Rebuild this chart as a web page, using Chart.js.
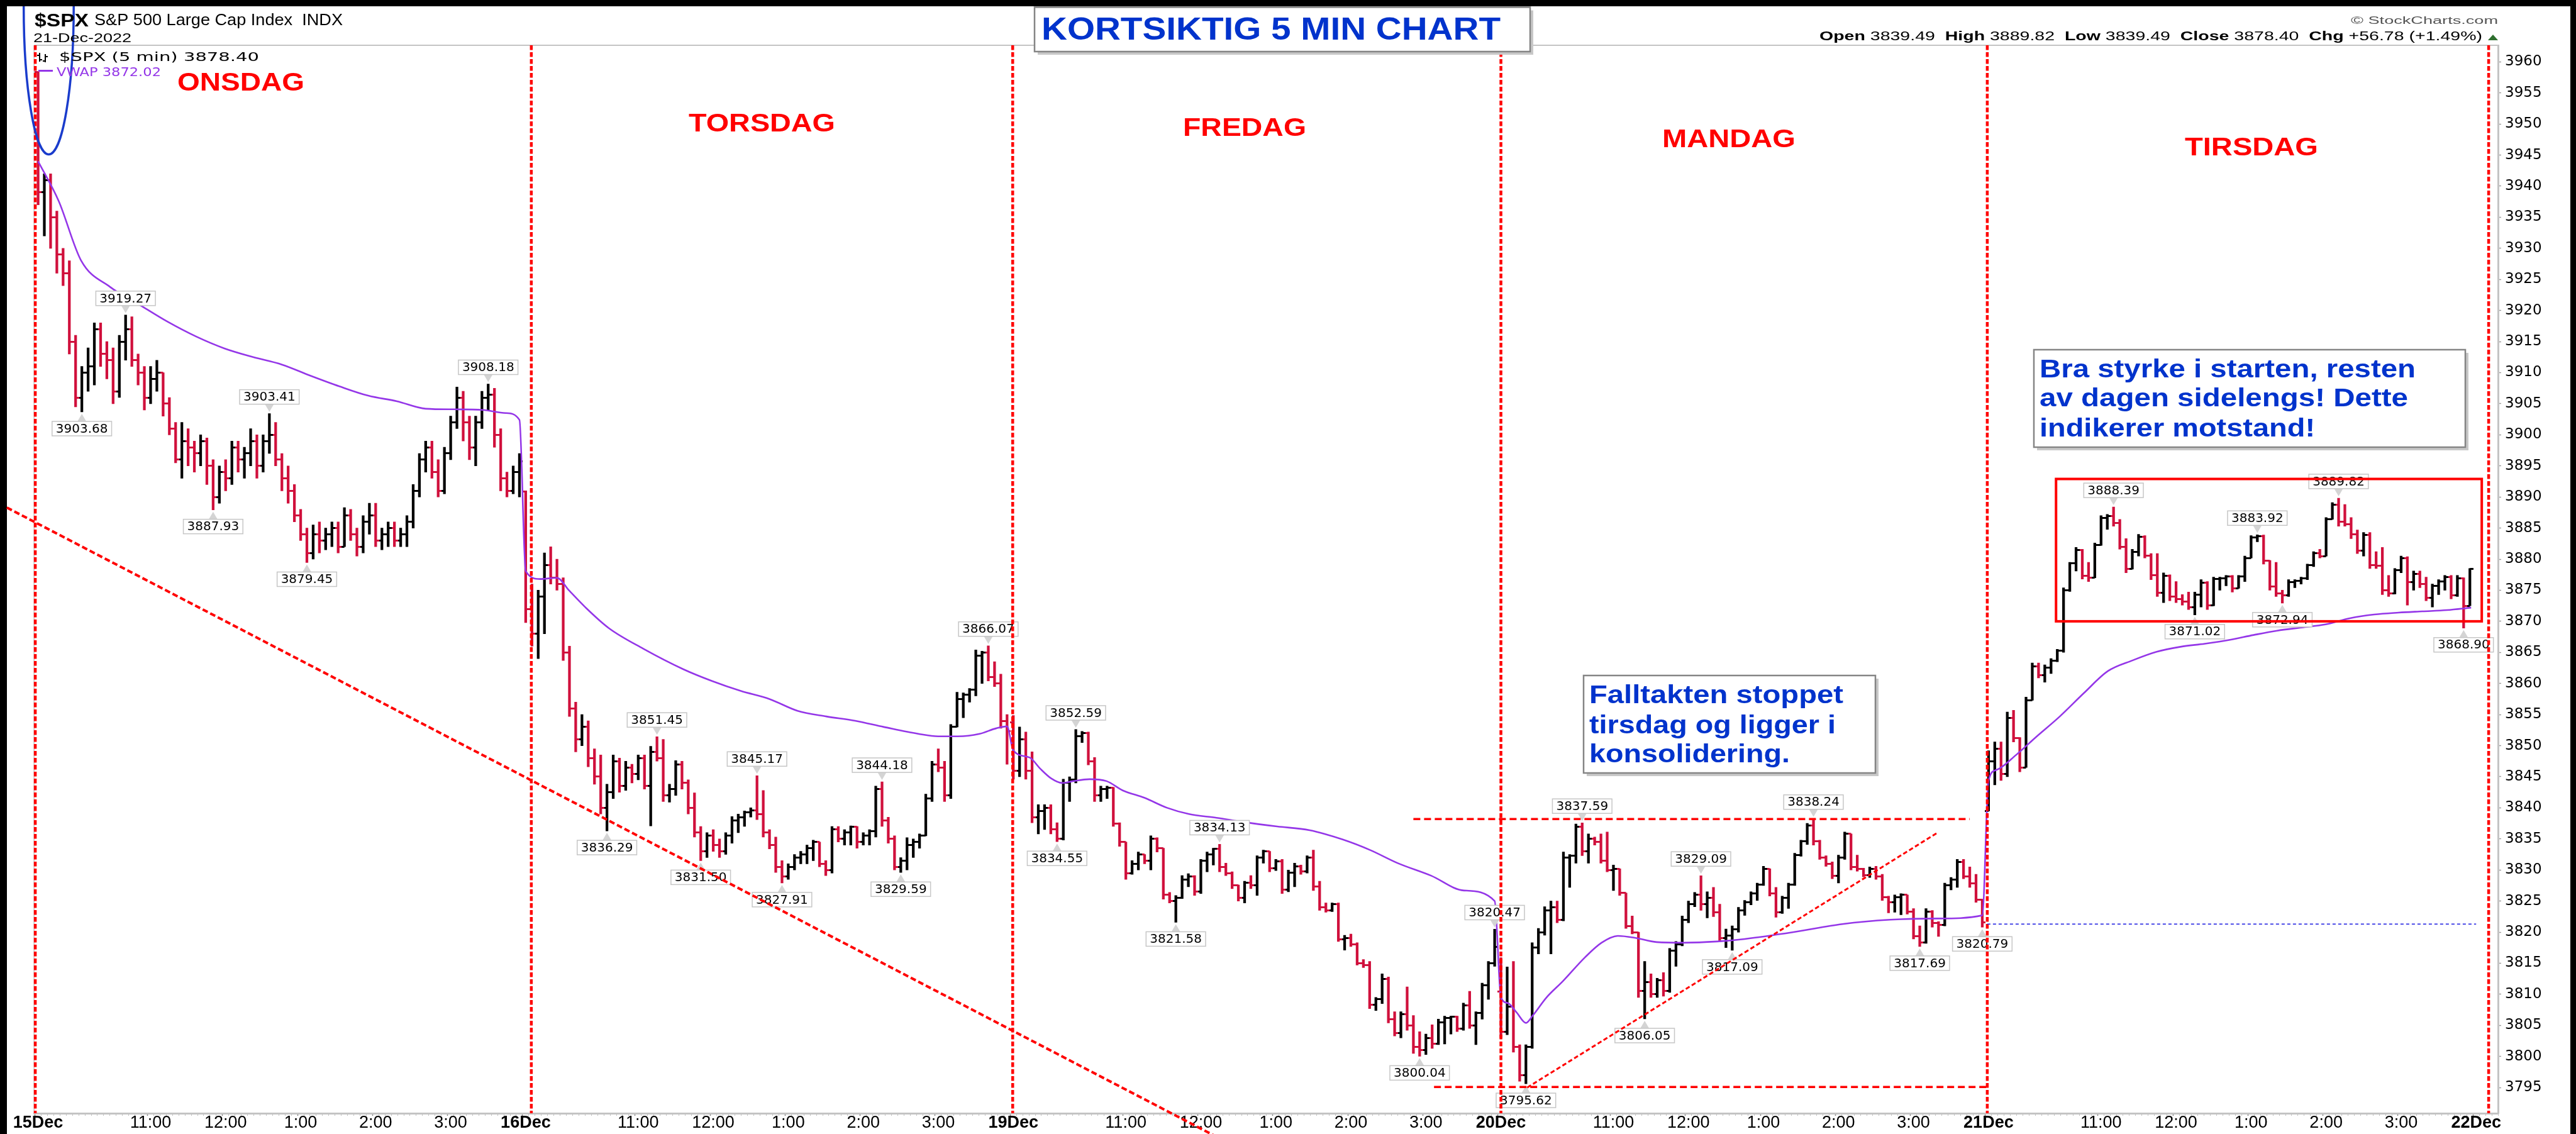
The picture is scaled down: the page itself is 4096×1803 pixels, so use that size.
<!DOCTYPE html>
<html><head><meta charset="utf-8">
<script src="https://cdn.jsdelivr.net/npm/chart.js@4.4.1/dist/chart.umd.min.js"></script>
<style>html,body{margin:0;padding:0;background:#fff;overflow:hidden}canvas{display:block}</style>
</head><body>
<canvas id="c" width="4096" height="1803"></canvas>
<script>
// ---------------- DATA ----------------
const dayLabels = ['15Dec','16Dec','19Dec','20Dec','21Dec','22Dec'];
const hourLabels = ['11:00','12:00','1:00','2:00','3:00'];
const hourOffsets = [18,30,42,54,66];
const barsPerDay = 78;
const yTicks = [3795,3800,3805,3810,3815,3820,3825,3830,3835,3840,3845,3850,3855,3860,3865,3870,3875,3880,3885,3890,3895,3900,3905,3910,3915,3920,3925,3930,3935,3940,3945,3950,3955,3960];
const dayOpen = [3958.37,3890.91,3853.79,3810.47,3839.49];

const d1High = [3958.4,3942,3942,3936,3930,3928,3916,3911,3914,3918,3918,3915,3914,3916,3919.27,3919,3913,3911,3911,3912,3910,3906,3902,3902,3901,3899,3900,3899.5,3896,3895,3896,3899,3899,3898,3901,3900,3900,3903.41,3902,3897,3895,3892,3888,3885,3885.5,3886,3885,3886,3886,3888.3,3888,3885,3887,3889,3889,3885,3886,3886,3885,3887,3892,3897,3899,3899,3896,3898,3903,3907.7,3907,3903,3903,3907,3908.18,3907.5,3901,3894,3895,3897];
const d1Low = [3937,3932,3930,3926,3924,3913,3904.5,3903.68,3907,3908,3911,3909,3905,3906,3912,3911,3908,3904,3905,3907,3903,3900,3895.5,3893,3895,3894,3895,3892,3887.93,3889,3891,3892,3894,3893,3895,3893,3894,3897,3895,3891,3889,3886,3883,3879.45,3880,3881,3881.5,3882,3881,3882,3883,3880.5,3881,3884,3882,3881.5,3882,3882,3882,3882,3885,3890,3894,3893,3890,3890.5,3896,3901,3899,3896,3895,3901,3904,3898,3891,3890,3890.5,3890];
const d1Close = [3939,3941,3935,3929,3926,3915,3906,3910,3911,3917,3913,3912,3907,3915,3917,3912,3910,3906,3909,3910,3905,3901,3896,3899,3898,3897,3899,3895,3890,3894,3893,3898,3896,3897,3899,3895,3899,3900,3896,3893,3891,3887,3884,3881,3884,3883,3884,3885,3882,3887,3884,3882,3886,3887,3883,3884,3885,3883,3884,3886,3891,3896,3898,3894,3891,3897,3902,3906,3902,3898,3902,3906,3906.5,3900,3893,3891,3894,3895.75];

const d2High = [3891,3876,3875,3881,3882,3880,3877,3866,3857,3855,3854,3849.5,3848.5,3843.8,3848.5,3848,3847.5,3847,3848.5,3848.5,3849.9,3851.45,3851,3843.8,3847.6,3847.5,3844.5,3842.4,3837,3836,3836.5,3835,3836,3838.6,3839,3839.5,3840,3845.17,3842.8,3836.5,3835.3,3831.5,3831,3832.5,3833,3834,3834.8,3834.5,3831.5,3837,3837,3836.5,3837.1,3837,3836,3836.5,3843.5,3844.18,3838.5,3835.5,3832,3835.2,3835,3835.8,3842.2,3847.5,3849.5,3847.5,3853.4,3858.6,3858.5,3859.2,3865.4,3865.2,3866.07,3863.5,3861.5,3855];
const d2Low = [3869.8,3866,3864,3868,3876,3875,3863.7,3854.7,3849,3850,3846.6,3843.8,3839,3836.29,3841.5,3842.5,3842.8,3844,3844.5,3843,3837.1,3847.5,3841,3840.9,3842,3843,3839,3835.3,3831.5,3832,3833,3832,3832.5,3834.3,3836,3837,3838.5,3838.1,3835.3,3833.4,3829.6,3827.91,3828.5,3830,3831,3831,3831.5,3830.5,3829.1,3829.5,3834.5,3834,3834,3833.5,3834,3834,3835.3,3837,3834.3,3830,3829.59,3830,3832,3833.5,3835.5,3841,3845.8,3841,3841.5,3853,3854.5,3857,3858,3860,3860.4,3859.5,3852.8,3847];
const d2Close = [3872,3868,3874,3879,3877,3876,3865,3856,3851,3853,3848,3845,3840,3842.5,3847.5,3843.5,3846.5,3845.5,3848,3843.5,3849,3848,3842,3843,3847,3844,3840,3836,3833,3835.5,3834,3833,3835.5,3838,3838.5,3839.3,3839.6,3839,3836,3834,3830.5,3829,3830.5,3832,3832.5,3833.5,3834.5,3831,3830,3836.5,3835,3836,3837,3834.5,3835.5,3836.2,3843,3838,3835,3830.5,3831.5,3834,3834.5,3835.5,3841.5,3847,3846.5,3842,3853,3857.5,3858.2,3859,3864.5,3865,3861,3860,3854,3852.36];

const d3High = [3854.86,3853,3852.2,3849,3840.5,3840.5,3840.5,3837.6,3844.6,3845,3852.59,3852.3,3852.2,3848.1,3843.5,3843.5,3843.3,3837.6,3834.5,3831.5,3832.9,3832.5,3835.5,3835.2,3833.5,3826.4,3825.9,3829.1,3829.4,3829.1,3831.7,3832.9,3833.5,3834.13,3831.1,3829.7,3827.6,3828.2,3829.1,3832.3,3833.2,3833,3831.7,3831.7,3830,3831.1,3830.8,3832.3,3833.2,3828.2,3824.7,3824.7,3824.7,3819.5,3819.7,3818.3,3815.6,3815.3,3809.5,3813.3,3812.8,3807.2,3807.2,3811.2,3806.6,3804,3803.6,3805.1,3806,3806.5,3806.5,3806.5,3808.6,3810.5,3807.2,3811.8,3815.3,3820.47];
const d3Low = [3844.6,3845,3844.6,3837.6,3835.8,3836.5,3835.8,3834.55,3834.8,3841,3844,3850.5,3846.9,3841,3841,3841.5,3837,3833.8,3828.5,3829.3,3830,3831,3830,3832.9,3825.3,3824.7,3821.58,3825.4,3827.3,3825.9,3826.2,3829.7,3830.8,3829.7,3829.1,3827,3825,3824.7,3827,3825.9,3831.1,3829.7,3829.9,3826.2,3826.5,3827.3,3829.3,3829.5,3826.7,3823.5,3823.2,3823.3,3818.5,3817.1,3817.7,3814.7,3814.3,3807.7,3807.4,3808.5,3805.4,3803.3,3803,3804.2,3800.5,3800.04,3800.3,3801.3,3801.9,3802,3803.6,3804,3804.2,3804.5,3801.9,3806,3809.2,3814.5];
const d3Close = [3846,3851,3846,3838.5,3839.5,3840,3836.5,3835,3844,3844.5,3851.5,3852,3847.5,3842,3843,3843.2,3837.5,3834.5,3829.5,3831,3832.5,3831.5,3835,3833.5,3826,3825,3825.5,3828.5,3829,3826.5,3831.5,3832.5,3833.4,3830.5,3829.5,3827.5,3825.5,3828,3827.5,3832,3833,3830.3,3831.4,3826.8,3829.6,3830.6,3829.8,3832,3827.3,3824,3823.5,3824.5,3818.8,3819,3818,3815,3814.7,3808.3,3809.2,3812.5,3806,3803.8,3806.8,3805,3801.5,3801,3803,3802,3805.5,3806.2,3806.4,3804.5,3808.2,3805,3807,3811.5,3815,3817.66];

const d4High = [3815.9,3814.4,3815.3,3801.9,3801.9,3818.3,3820.6,3824.1,3825,3825,3832.9,3832.5,3837.4,3837.59,3835.8,3835.3,3835.8,3836.1,3830.8,3830.2,3826.3,3822.6,3820,3815.3,3813.3,3812.6,3813.5,3817.4,3818.5,3822.6,3825,3826.4,3829.09,3826.5,3827.2,3824.5,3820.5,3821,3824,3825.1,3826.5,3827.9,3830.6,3830.2,3827.2,3825.8,3827.9,3832.7,3834.8,3837.5,3838.24,3834.8,3832.3,3831.3,3832.4,3836.1,3835.8,3832.4,3830.3,3830.5,3830.6,3829.3,3825.8,3826,3826.2,3826,3823.8,3821,3823.8,3823.5,3821.7,3827.9,3828.8,3831.7,3831.7,3830.5,3829.3,3825.3];
const d4Low = [3803,3803.5,3800.7,3796,3795.62,3801.3,3816.5,3819.5,3816.5,3821.5,3821.8,3827.2,3831.1,3832.3,3831.1,3834,3831.1,3829.7,3826.7,3825.9,3820.6,3819.7,3809.5,3806.05,3809.5,3809.5,3809.7,3810.3,3814.5,3817.8,3821.5,3824.1,3823.5,3822.3,3822.5,3818.5,3817.5,3817.09,3820,3822.7,3824.4,3825.1,3827.5,3825.8,3822.4,3823,3823.8,3827.5,3832.2,3834.1,3834,3831.7,3830.6,3828.6,3827.9,3831.7,3830,3829.8,3828.9,3828.8,3828.5,3825.1,3823.1,3823.2,3822.8,3822.9,3818.9,3817.69,3818.2,3820.8,3819.3,3821,3826.8,3827.2,3828.6,3827.2,3824.8,3820.79];
const d4Close = [3804,3808,3801.5,3797,3801.5,3817.5,3820,3823.5,3824,3822,3832,3832.3,3837,3833,3835,3834.5,3831.5,3830,3830.2,3826.3,3821,3820,3810.5,3812,3810,3812.3,3810.5,3817,3818,3822,3824.5,3826,3824.5,3825.5,3823.2,3819,3819.5,3820.5,3823.5,3824.8,3826.2,3827.6,3830.2,3826.2,3823.2,3825.5,3827.6,3832.4,3834.6,3837.2,3834.6,3832,3831,3829.1,3832,3835.8,3830.5,3830.2,3829.2,3830.2,3829,3825.6,3824.8,3825.6,3826,3823.3,3819.4,3818.3,3823.3,3821.5,3821.2,3827.5,3828.5,3831.3,3829,3827.8,3825.2,3821.62];

const d5High = [3849.2,3850.6,3850.6,3855.4,3855.7,3851.3,3857.8,3863.3,3863.3,3863,3864,3865.5,3875.4,3879.5,3881.9,3881.6,3879.5,3882.6,3887,3887.2,3888.39,3886.4,3883.3,3881.6,3884,3883.8,3880.9,3880.9,3877.8,3877.5,3876.4,3874.3,3874.7,3874.7,3876.7,3876.4,3877.1,3877.1,3877.4,3877.4,3877.4,3880.5,3883.8,3883.92,3883.9,3879.8,3879.5,3875,3876.7,3876.7,3877.1,3879.2,3881.2,3881.6,3886.7,3889.1,3889.82,3888.8,3886.7,3884.7,3884.3,3884.3,3881.2,3881.9,3877.4,3878.5,3880.5,3880.4,3878.1,3878.1,3877.1,3876,3876.7,3877.4,3877.4,3877.4,3877,3878.5];
const d5Low = [3839.49,3843.7,3844.4,3845,3850.6,3845.8,3846.5,3857.3,3860.9,3860.2,3861.6,3863.5,3865,3874.8,3878.1,3876.8,3876.4,3877,3882.2,3884.8,3885.3,3881.6,3877.8,3878.4,3880.5,3880.2,3876.7,3874,3873,3873.3,3873,3872.6,3871.9,3871.02,3872.3,3871.9,3872.5,3875,3875.7,3874.7,3875.3,3876.4,3880.2,3882.8,3879.2,3875,3874,3872.94,3874,3875.4,3876,3876.7,3878.8,3880.2,3880.5,3886.4,3885.3,3885.3,3883.3,3880.9,3880.5,3878.5,3878.5,3874.3,3874,3874.4,3877.8,3872.6,3875,3875.4,3873.3,3872.3,3874.3,3875,3873.6,3874,3868.9,3872.5];
const d5Close = [3847.5,3849.5,3845.5,3854.5,3851.2,3846.5,3857.3,3862.8,3861.3,3862.6,3863.7,3865.3,3875,3879.3,3881.5,3877.3,3877,3882.3,3886.6,3886.9,3885.8,3882,3878.4,3881.2,3883.6,3880.6,3877.4,3874.6,3877.3,3874,3873.6,3873.2,3872.3,3874.3,3876.2,3872.6,3876.8,3876.9,3877.2,3875.3,3877.2,3880.2,3883.5,3883.7,3879.8,3875.6,3874.5,3874.2,3876.3,3876.5,3876.9,3879,3881,3880.5,3886.4,3888.8,3886,3885.6,3884,3881.4,3883.9,3879,3878.9,3875,3874.5,3878.2,3880.2,3876.3,3877.6,3876,3873.8,3875.7,3876.4,3877.1,3874.2,3876.9,3872.5,3878.4];

const vwapBars = [0,3.3,6.9,11.5,16.1,20.7,25.3,29.8,34.4,39,43.6,48.2,52.8,57.4,62,66.5,71.1,74.8,77,
 78,80.3,83,84.9,87.6,91.3,96.8,103.2,107.8,112.4,117,121.5,126.1,130.7,135.3,140.8,144,147.1,150.6,153.3,155,
 156,158.6,160.3,162.1,163.8,165.6,168.2,170.9,173.5,177,180.6,184.1,188.5,192.9,198.2,203.4,208.7,213.1,217.5,222.8,228.1,233,
 234,235.1,236.5,238,239.1,241.3,243.9,247.4,250.1,252.7,255.4,258.9,263.3,268.6,273,280.8,288.6,296.3,304,311,
 312,313.3,316.4,319.5,323.4,327.3,331.1,335,338.9,342.7,346.6,350.5,354.4,358.2,362.1,365.9,369.8,373.7,377.6,381.4,385.3,389.2];
const vwapValues = [3944,3937.6,3928,3923.8,3921,3918.2,3915.8,3913.9,3912.5,3911.3,3909.5,3907.8,3906.3,3905.4,3904.2,3904.1,3904,3903.5,3902.4,
 3878.1,3876.8,3877,3875,3872.2,3868.9,3865.6,3862.3,3860.4,3858.8,3857.5,3855.6,3854.7,3854,3853,3851.9,3851.5,3851.5,3851.9,3852.8,3853.1,
 3849.2,3848.1,3846.3,3844.7,3844,3844.3,3844.6,3844.3,3842.8,3841.6,3840,3839,3838.4,3837.7,3837,3836.4,3834.9,3833.2,3831.1,3829.1,3826.7,3825,
 3809.5,3808.6,3807.1,3805.4,3806.6,3809.5,3812.1,3815.9,3818.3,3819.4,3819.1,3818.4,3818.3,3818.5,3818.9,3820,3821.3,3822,3822.2,3822.7,
 3844.4,3846.1,3848.5,3851.3,3854.7,3858.5,3862,3863.7,3865.1,3865.9,3866.4,3867,3867.8,3868.5,3869,3869.5,3870.5,3871.1,3871.4,3871.6,3871.8,3872.2];

// swing-point price labels: [bar, price, 'h' above / 'l' below]
const swingLabels = [
 [14,3919.27,'h'],[7,3903.68,'l'],[37,3903.41,'h'],[28,3887.93,'l'],[43,3879.45,'l'],[72,3908.18,'h'],
 [99,3851.45,'h'],[91,3836.29,'l'],[115,3845.17,'h'],[106,3831.50,'l'],[119,3827.91,'l'],[135,3844.18,'h'],[138,3829.59,'l'],[152,3866.07,'h'],
 [163,3834.55,'l'],[166,3852.59,'h'],[182,3821.58,'l'],[189,3834.13,'h'],[221,3800.04,'l'],[233,3820.47,'h'],
 [238,3795.62,'l'],[247,3837.59,'h'],[257,3806.05,'l'],[266,3829.09,'h'],[271,3817.09,'l'],[284,3838.24,'h'],[301,3817.69,'l'],[311,3820.79,'l'],
 [332,3888.39,'h'],[345,3871.02,'l'],[355,3883.92,'h'],[359,3872.94,'l'],[368,3889.82,'h'],[388,3868.90,'l']
];

// hand-drawn annotations (in bar / price units)
const dayLineBars = [-0.45,78.9,155.9,234,311.8,392];
const downTrend = [[-5.0,3888.3],[188.1,3787.3]];
const riseTrend = [[238.2,3795.0],[304,3836.1]];
const resistLine = [[220,3838.2],[309,3838.2]];
const supportLine = [[223.3,3795.1],[311.8,3795.1]];
const blueLine = [[311.8,3821.3],[390,3821.3]];
const rangeBox = [[322.8,3892.9],[390.9,3870.0]];
const ellipseNote = {bar:1.7, price:3968.9, rBars:4.0, rPrice:23.8};

// ---------------- BUILD ----------------
const high = [].concat(d1High,d2High,d3High,d4High,d5High);
const low = [].concat(d1Low,d2Low,d3Low,d4Low,d5Low);
const close = [].concat(d1Close,d2Close,d3Close,d4Close,d5Close);
const open = close.map((c,i)=> i % barsPerDay === 0 ? dayOpen[i/barsPerDay] : close[i-1]);
const isUp = close.map((c,i)=> c >= open[i]);

const xLabelMap = {};
dayLabels.forEach((d,i)=>{ xLabelMap[i*barsPerDay] = d; });
for (let d=0; d<5; d++) hourOffsets.forEach((o,j)=>{ xLabelMap[d*barsPerDay+o] = hourLabels[j]; });
const xTickValues = []; for (let i=0;i<=393;i++) xTickValues.push(i);

const UP = '#000000', DN = '#d0103c', PURPLE = '#9436e8', RED = '#ff0000', BLUE = '#0033cc';
const XMIN = -0.64, XMAX = 393.5, YMIN = 3790.87, YMAX = 3962.65;

function tickImg(color, side){
  const c = document.createElement('canvas'); c.width = 11; c.height = 3;
  const g = c.getContext('2d'); g.fillStyle = color;
  if (side === 'L') g.fillRect(0,0,5.5,3); else g.fillRect(5.5,0,5.5,3);
  return c;
}
const imgOpenUp = tickImg(UP,'L'), imgOpenDn = tickImg(DN,'L'), imgCloseUp = tickImg(UP,'R'), imgCloseDn = tickImg(DN,'R');

function fitText(ctx, txt, x, y, w, font, color, align){
  ctx.save(); ctx.font = font; ctx.fillStyle = color; ctx.textAlign = 'left'; ctx.textBaseline = 'alphabetic';
  const m = ctx.measureText(txt).width; const s = w / m;
  const x0 = align === 'right' ? x - w : x;
  ctx.translate(x0, y); ctx.scale(s, 1); ctx.fillText(txt, 0, 0); ctx.restore();
}
function segLine(ctx, p1, p2, sx, sy, color, width, dash){
  ctx.save(); ctx.strokeStyle = color; ctx.lineWidth = width; ctx.setLineDash(dash || []);
  ctx.beginPath(); ctx.moveTo(sx.getPixelForValue(p1[0]), sy.getPixelForValue(p1[1]));
  ctx.lineTo(sx.getPixelForValue(p2[0]), sy.getPixelForValue(p2[1])); ctx.stroke(); ctx.restore();
}
function noteBox(ctx, x, y, w, h){
  ctx.save();
  ctx.fillStyle = '#c8c8c8'; ctx.fillRect(x+5, y+5, w, h);
  ctx.fillStyle = '#ffffff'; ctx.fillRect(x, y, w, h);
  ctx.strokeStyle = '#858585'; ctx.lineWidth = 2.5; ctx.strokeRect(x, y, w, h);
  ctx.restore();
}

const annotations = {
  id: 'annotations',
  beforeDraw(chart){
    const ctx = chart.ctx;
    ctx.save();
    ctx.fillStyle = '#000'; ctx.fillRect(0,0,4096,1803);
    ctx.fillStyle = '#fff'; ctx.fillRect(11,10,4087-11,1803-10);
    ctx.restore();
  },
  afterDatasetsDraw(chart){
    const ctx = chart.ctx, sx = chart.scales.x, sy = chart.scales.y, ca = chart.chartArea;
    // swing labels
    ctx.save();
    ctx.font = '20px "DejaVu Sans", Verdana, sans-serif';
    swingLabels.forEach(([b, v, k])=>{
      const px = sx.getPixelForValue(b), py = sy.getPixelForValue(v);
      const txt = v.toFixed(2); const tw = ctx.measureText(txt).width;
      const bw = tw + 12, bh = 23;
      const by = k === 'h' ? py - 15 - bh : py + 15;
      ctx.fillStyle = '#d4d4d4'; ctx.beginPath();
      if (k === 'h'){ ctx.moveTo(px-7, by+bh); ctx.lineTo(px+7, by+bh); ctx.lineTo(px, py-3); }
      else { ctx.moveTo(px-7, by); ctx.lineTo(px+7, by); ctx.lineTo(px, py+3); }
      ctx.closePath(); ctx.fill();
      ctx.fillStyle = '#fff'; ctx.fillRect(px-bw/2, by, bw, bh);
      ctx.strokeStyle = '#c6c6c6'; ctx.lineWidth = 1.5; ctx.strokeRect(px-bw/2, by, bw, bh);
      ctx.fillStyle = '#000'; ctx.textAlign = 'center'; ctx.textBaseline = 'middle';
      ctx.fillText(txt, px, by + bh/2 + 1);
    });
    ctx.restore();
    // plot frame top / left
    ctx.save(); ctx.strokeStyle = '#c4c4c4';
    ctx.lineWidth = 2; ctx.beginPath(); ctx.moveTo(ca.left, ca.top); ctx.lineTo(ca.right, ca.top); ctx.stroke();
    ctx.lineWidth = 1.5; ctx.beginPath(); ctx.moveTo(ca.left, ca.top); ctx.lineTo(ca.left, ca.bottom); ctx.stroke();
    ctx.restore();
    // day separators
    dayLineBars.forEach(b=> segLine(ctx, [b, YMAX], [b, YMIN], sx, sy, RED, 4.5, [7.5,3.5]));
    // trend lines
    segLine(ctx, downTrend[0], downTrend[1], sx, sy, RED, 4, [9,4.5]);
    segLine(ctx, resistLine[0], resistLine[1], sx, sy, RED, 3.5, [11,6]);
    segLine(ctx, supportLine[0], supportLine[1], sx, sy, RED, 3.5, [11,6]);
    segLine(ctx, riseTrend[0], riseTrend[1], sx, sy, RED, 3, [7,4]);
    segLine(ctx, blueLine[0], blueLine[1], sx, sy, '#1a1ae0', 1.5, [5,4]);
    // resistance rectangle
    ctx.save(); ctx.strokeStyle = RED; ctx.lineWidth = 4;
    const rx1 = sx.getPixelForValue(rangeBox[0][0]), ry1 = sy.getPixelForValue(rangeBox[0][1]);
    const rx2 = sx.getPixelForValue(rangeBox[1][0]), ry2 = sy.getPixelForValue(rangeBox[1][1]);
    ctx.strokeRect(rx1, ry1, rx2-rx1, ry2-ry1); ctx.restore();
    // ellipse
    ctx.save(); ctx.beginPath(); ctx.rect(11, 10, 4000, 1800); ctx.clip();
    const ex = sx.getPixelForValue(ellipseNote.bar), ey = sy.getPixelForValue(ellipseNote.price);
    const ea = sx.getPixelForValue(ellipseNote.bar + ellipseNote.rBars) - ex;
    const eb = sy.getPixelForValue(ellipseNote.price - ellipseNote.rPrice) - ey;
    ctx.strokeStyle = '#1a3ccc'; ctx.lineWidth = 3.5; ctx.beginPath(); ctx.ellipse(ex, ey, ea, eb, 0, 0, Math.PI*2); ctx.stroke();
    ctx.restore();
  },
  afterDraw(chart){
    const ctx = chart.ctx;
    const F = 'px "Liberation Sans", Arial, sans-serif';
    // header
    fitText(ctx, '$SPX', 55, 41.5, 86, 'bold 30'+F, '#000');
    fitText(ctx, 'S&P 500 Large Cap Index  INDX', 150, 40, 395, '26'+F, '#000');
    fitText(ctx, '21-Dec-2022', 53, 67, 156, '21'+F, '#000');
    // legend
    ctx.save(); ctx.fillStyle = '#000';
    ctx.fillRect(62, 84, 2, 14); ctx.fillRect(59, 87, 3, 2); ctx.fillRect(64, 94, 3, 2);
    ctx.fillRect(71, 86, 2, 13); ctx.fillRect(68, 96, 3, 2); ctx.fillRect(73, 89, 3, 2);
    ctx.restore();
    fitText(ctx, '$SPX (5 min) 3878.40', 94, 97, 318, '19px "DejaVu Sans", Verdana, sans-serif', '#000');
    ctx.save(); ctx.fillStyle = PURPLE; ctx.fillRect(61, 111, 23, 3); ctx.restore();
    fitText(ctx, 'VWAP 3872.02', 90, 121, 166, '19px "DejaVu Sans", Verdana, sans-serif', PURPLE);
    // copyright + OHLC line
    fitText(ctx, '\u00A9 StockCharts.com', 3972, 38, 234, '16'+F, '#555', 'right');
    const segs = [['Open',1],[' 3839.49  ',0],['High',1],[' 3889.82  ',0],['Low',1],[' 3839.49  ',0],['Close',1],[' 3878.40  ',0],['Chg',1],[' +56.78 (+1.49%)',0]];
    const size = 20; const widths = segs.map(([t,b])=>{ ctx.font = (b?'bold ':'')+size+F; return ctx.measureText(t).width; });
    const sum = widths.reduce((a,b)=>a+b,0); const totalW = 1054; const sc = totalW/sum;
    ctx.save(); ctx.fillStyle = '#000'; ctx.textBaseline = 'alphabetic'; ctx.textAlign = 'left';
    ctx.translate(3947 - totalW, 64); ctx.scale(sc, 1);
    let cx = 0; segs.forEach(([t,b],i)=>{ ctx.font = (b?'bold ':'')+size+F; ctx.fillText(t, cx, 0); cx += widths[i]; });
    ctx.restore();
    ctx.save(); ctx.fillStyle = '#2f6f2f'; ctx.beginPath(); ctx.moveTo(3956,64); ctx.lineTo(3972,64); ctx.lineTo(3964,55); ctx.closePath(); ctx.fill(); ctx.restore();
    // day names
    const DF = 'bold 41'+F;
    fitText(ctx, 'ONSDAG', 282, 143.5, 202, DF, RED);
    fitText(ctx, 'TORSDAG', 1095, 209, 233, DF, RED);
    fitText(ctx, 'FREDAG', 1881, 215.5, 196, DF, RED);
    fitText(ctx, 'MANDAG', 2643, 234, 212, DF, RED);
    fitText(ctx, 'TIRSDAG', 3474, 247, 212, DF, RED);
    // note boxes
    noteBox(ctx, 1645, 11.5, 788, 70.5);
    fitText(ctx, 'KORTSIKTIG 5 MIN CHART', 1656, 63, 730, 'bold 50'+F, BLUE);
    noteBox(ctx, 3234, 556, 686, 155);
    fitText(ctx, 'Bra styrke i starten, resten', 3243, 600, 598, 'bold 40'+F, BLUE);
    fitText(ctx, 'av dagen sidelengs! Dette', 3243, 646, 586, 'bold 40'+F, BLUE);
    fitText(ctx, 'indikerer motstand!', 3243, 694, 438, 'bold 40'+F, BLUE);
    noteBox(ctx, 2518, 1074, 464, 155);
    fitText(ctx, 'Falltakten stoppet', 2527, 1118, 404, 'bold 40'+F, BLUE);
    fitText(ctx, 'tirsdag og ligger i', 2527, 1166, 392, 'bold 40'+F, BLUE);
    fitText(ctx, 'konsolidering.', 2527, 1212, 319, 'bold 40'+F, BLUE);
  }
};

const rangePts = high.map((h,i)=>({x:i, y:[low[i], h]}));
const openPts = open.map((o,i)=>({x:i, y:o}));
const closePts = close.map((c,i)=>({x:i, y:c}));
const vwapPts = vwapBars.map((b,i)=>({x:b, y:vwapValues[i]}));

new Chart(document.getElementById('c'), {
  type: 'bar',
  data: { datasets: [
    { type:'line', label:'VWAP', data: vwapPts, borderColor: PURPLE, borderWidth: 2.6, pointRadius: 0, cubicInterpolationMode:'monotone', fill:false, order: 0 },
    { type:'scatter', label:'Close', data: closePts, pointRadius: 3, pointStyle: c => isUp[c.dataIndex] ? imgCloseUp : imgCloseDn, order: 1 },
    { type:'scatter', label:'Open', data: openPts, pointRadius: 3, pointStyle: c => isUp[c.dataIndex] ? imgOpenUp : imgOpenDn, order: 2 },
    { type:'bar', label:'Range', data: rangePts, backgroundColor: c => isUp[c.dataIndex] ? UP : DN, barThickness: 3.6, borderWidth: 0, order: 3 }
  ]},
  options: {
    responsive: false, animation: false, devicePixelRatio: 1, events: [],
    layout: { padding: { left: 54.2, top: 72.1, right: 0, bottom: 0 } },
    plugins: { legend: { display: false }, tooltip: { enabled: false } },
    scales: {
      x: { type:'linear', position:'bottom', min: XMIN, max: XMAX, offset: false,
        afterBuildTicks: s => { s.ticks = xTickValues.map(v => ({ value: v })); },
        afterFit: s => { s.height = 33; },
        ticks: { autoSkip: false, maxRotation: 0, minRotation: 0, padding: -2, color: '#000',
          callback: v => xLabelMap[v] || '',
          font: c => ({ family: '"Liberation Sans", Arial, sans-serif', size: 27, lineHeight: 1,
            weight: (c.tick && xLabelMap[c.tick.value] && xLabelMap[c.tick.value].indexOf('Dec') >= 0) ? 'bold' : 'normal' }) },
        grid: { drawOnChartArea: false, drawTicks: true, tickLength: 4,
          tickColor: c => (c.tick && xLabelMap[c.tick.value]) ? '#808080' : '#bcbcbc',
          tickWidth: c => (c.tick && xLabelMap[c.tick.value]) ? 1.5 : 1 },
        border: { display: true, color: '#c4c4c4', width: 3 }
      },
      y: { type:'linear', position:'right', min: YMIN, max: YMAX,
        afterBuildTicks: s => { s.ticks = yTicks.map(v => ({ value: v })); },
        afterFit: s => { s.width = 124; },
        ticks: { padding: 6, color: '#000', font: { family: '"DejaVu Sans", Verdana, sans-serif', size: 23 }, callback: v => String(v) },
        grid: { drawOnChartArea: false, drawTicks: true, tickLength: 5, tickColor: '#a0a0a0', tickWidth: 1.5 },
        border: { display: true, color: '#c4c4c4', width: 3 }
      }
    }
  },
  plugins: [annotations]
});
</script>
</body></html>
